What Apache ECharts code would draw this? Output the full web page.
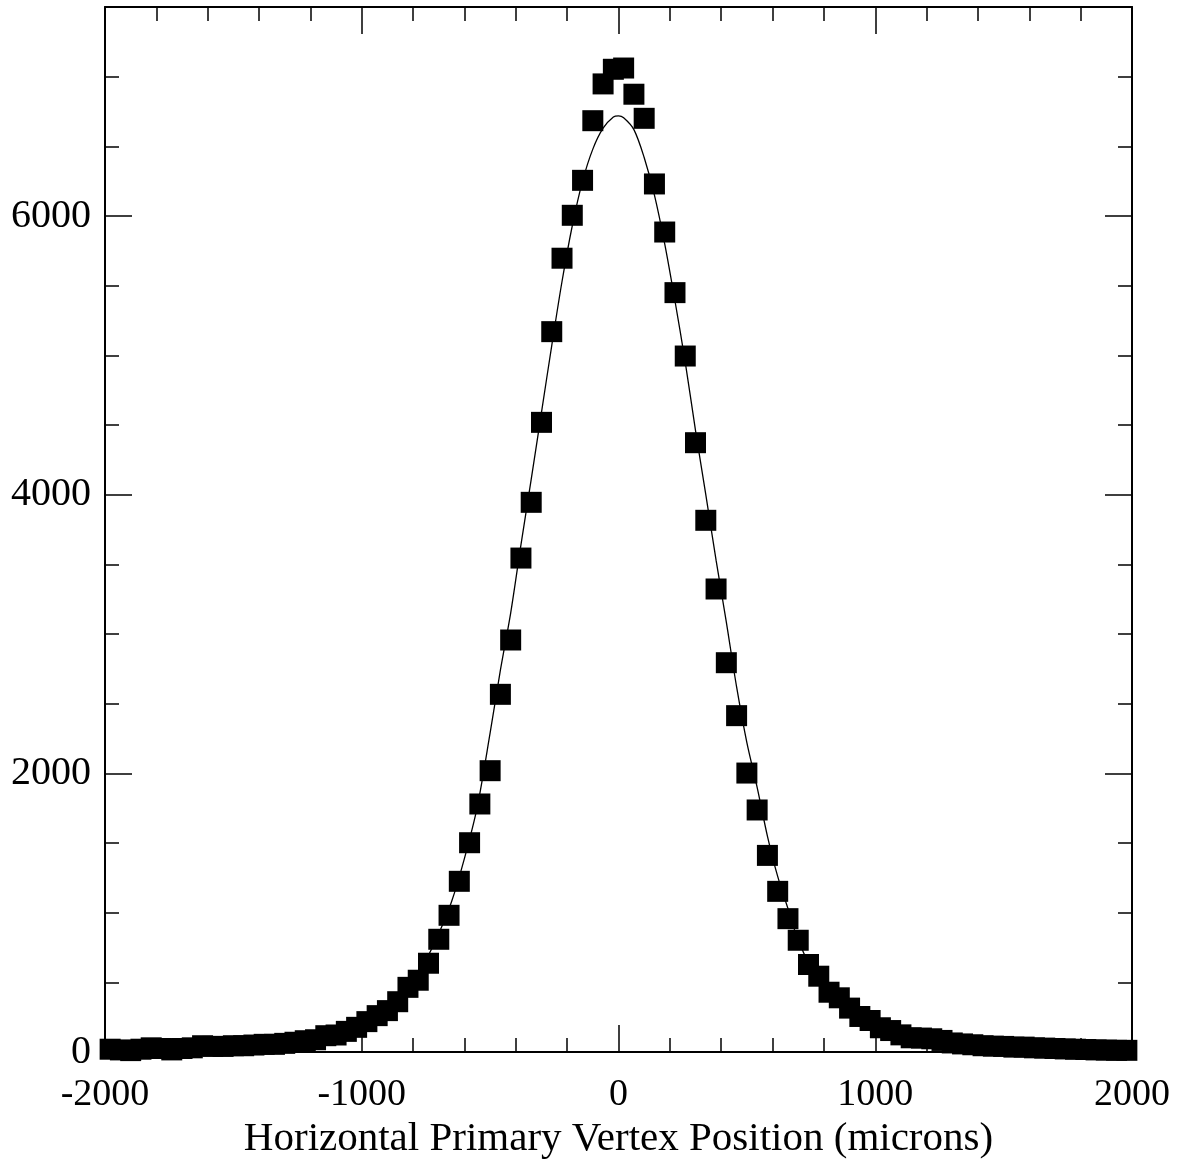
<!DOCTYPE html>
<html>
<head>
<meta charset="utf-8">
<title>Horizontal Primary Vertex Position</title>
<script src="https://cdn.jsdelivr.net/npm/echarts@6/dist/echarts.min.js"></script>
<style>
  html, body { margin: 0; padding: 0; background: #fff; }
  #chart { width: 1186px; height: 1164px; }
</style>
</head>
<body>
<div id="chart"></div>
<script>
// Bin centres (microns), 40-micron bins from -2000 to 2000
const binCenters = [
  -1980, -1940, -1900, -1860, -1820, -1780, -1740, -1700, -1660, -1620,
  -1580, -1540, -1500, -1460, -1420, -1380, -1340, -1300, -1260, -1220,
  -1180, -1140, -1100, -1060, -1020, -980, -940, -900, -860, -820,
  -780, -740, -700, -660, -620, -580, -540, -500, -460, -420,
  -380, -340, -300, -260, -220, -180, -140, -100, -60, -20,
  20, 60, 100, 140, 180, 220, 260, 300, 340, 380,
  420, 460, 500, 540, 580, 620, 660, 700, 740, 780,
  820, 860, 900, 940, 980, 1020, 1060, 1100, 1140, 1180,
  1220, 1260, 1300, 1340, 1380, 1420, 1460, 1500, 1540, 1580,
  1620, 1660, 1700, 1740, 1780, 1820, 1860, 1900, 1940, 1980
];

// Vertex counts per bin
const counts = [
  20, 15, 10, 20, 30, 25, 15, 25, 30, 45,
  40, 40, 45, 45, 50, 55, 55, 62, 70, 81,
  88, 117, 122, 148, 177, 218, 261, 297, 361, 464,
  515, 637, 809, 981, 1225, 1502, 1780, 2019, 2567, 2957,
  3545, 3945, 4519, 5170, 5697, 6005, 6256, 6684, 6948, 7053,
  7062, 6874, 6701, 6230, 5885, 5450, 4995, 4373, 3816, 3323,
  2794, 2414, 2002, 1737, 1411, 1153, 957, 802, 628, 544,
  429, 389, 315, 255, 226, 174, 154, 123, 102, 100,
  95, 83, 65, 58, 52, 45, 42, 40, 35, 35,
  30, 28, 25, 22, 20, 18, 15, 14, 12, 12
];

// Fitted curve, sampled positions and heights
const fitX = [
  -2000, -1900, -1800, -1700, -1600, -1500, -1400, -1300, -1200, -1150,
  -1100, -1050, -1000, -950, -900, -850, -800, -750, -700, -650,
  -600, -550, -500, -460, -420, -380, -340, -300, -260, -220,
  -180, -140, -100, -60, -20, 0, 20, 60, 100, 140,
  180, 220, 260, 300, 340, 380, 420, 460, 500, 540,
  580, 620, 660, 700, 750, 800, 850, 900, 950, 1000,
  1050, 1100, 1150, 1200, 1300, 1400, 1500, 1600, 1700, 1800,
  1900, 2000
];
const fitY = [
  12, 15, 20, 27, 35, 45, 58, 75, 100, 118,
  140, 170, 205, 255, 320, 405, 515, 660, 850, 1080,
  1390, 1760, 2290, 2740, 3150, 3640, 4110, 4590, 5070, 5530,
  5930, 6250, 6480, 6630, 6710, 6718, 6705, 6620, 6420, 6150,
  5800, 5390, 4950, 4460, 4000, 3530, 3085, 2620, 2220, 1900,
  1550, 1260, 1030, 800, 610, 480, 380, 300, 240, 195,
  160, 130, 110, 95, 72, 55, 44, 35, 27, 20,
  15, 12
];

// Axis ranges and tick steps
const xRange = [-2000, 2000];
const xMajorStep = 1000;
const yRange = [0, 7500];
const yMajorStep = 2000;
const yMinorStep = 500;

const FONT = '"Liberation Serif", "Times New Roman", serif';
const BLACK = '#000';

const chart = echarts.init(document.getElementById('chart'), null, { renderer: 'canvas' });

const lineStyle = { color: BLACK, width: 2 };
const tickStyle = { color: BLACK, width: 1.5 };

function xAxisDef(position, withLabels) {
  return {
    type: 'value',
    position: position,
    min: xRange[0],
    max: xRange[1],
    interval: xMajorStep,
    axisLine: { show: true, onZero: false, lineStyle: lineStyle },
    axisTick: { show: true, inside: true, length: 27, lineStyle: tickStyle },
    minorTick: { show: true, splitNumber: 5, length: 14, lineStyle: tickStyle },
    splitLine: { show: false },
    minorSplitLine: { show: false },
    axisLabel: withLabels
      ? {
          show: true, color: BLACK, fontFamily: FONT, fontSize: 38, margin: 24,
          formatter: function (v) { return String(v); }
        }
      : { show: false },
    name: withLabels ? 'Horizontal Primary Vertex Position (microns)' : '',
    nameLocation: 'middle',
    nameGap: 66,
    nameTextStyle: { color: BLACK, fontFamily: FONT, fontSize: 41 }
  };
}

function yAxisDef(position, step, tickLen, withLabels) {
  return {
    type: 'value',
    position: position,
    min: yRange[0],
    max: yRange[1],
    interval: step,
    axisLine: { show: withLabels, onZero: false, lineStyle: lineStyle },
    axisTick: { show: true, inside: true, length: tickLen, lineStyle: tickStyle },
    splitLine: { show: false },
    axisLabel: withLabels && position === 'left'
      ? {
          show: true, color: BLACK, fontFamily: FONT, fontSize: 40, margin: 14,
          formatter: function (v) { return v % yMajorStep === 0 ? String(v) : ''; }
        }
      : { show: false }
  };
}

const option = {
  backgroundColor: '#fff',
  animation: false,
  grid: {
    left: 105, right: 54, top: 7, bottom: 112,
    containLabel: false,
    outerBoundsMode: 'none'
  },
  xAxis: [xAxisDef('bottom', true), xAxisDef('top', false)],
  yAxis: [
    yAxisDef('left', yMajorStep, 27, true),
    yAxisDef('left', yMinorStep, 14, false),
    yAxisDef('right', yMajorStep, 27, true),
    yAxisDef('right', yMinorStep, 14, false)
  ],
  series: [
    {
      name: 'fit',
      type: 'line',
      xAxisIndex: 0,
      yAxisIndex: 0,
      data: fitX.map((x, i) => [x, fitY[i]]),
      smooth: 0.3,
      showSymbol: false,
      symbol: 'none',
      lineStyle: { color: BLACK, width: 1.3 },
      z: 2,
      silent: true
    },
    {
      name: 'vertices',
      type: 'scatter',
      xAxisIndex: 0,
      yAxisIndex: 0,
      data: binCenters.map((x, i) => [x, counts[i]]),
      symbol: 'rect',
      symbolSize: 21,
      itemStyle: { color: BLACK, opacity: 1 },
      z: 3,
      silent: true
    }
  ]
};

chart.setOption(option);
</script>
</body>
</html>
